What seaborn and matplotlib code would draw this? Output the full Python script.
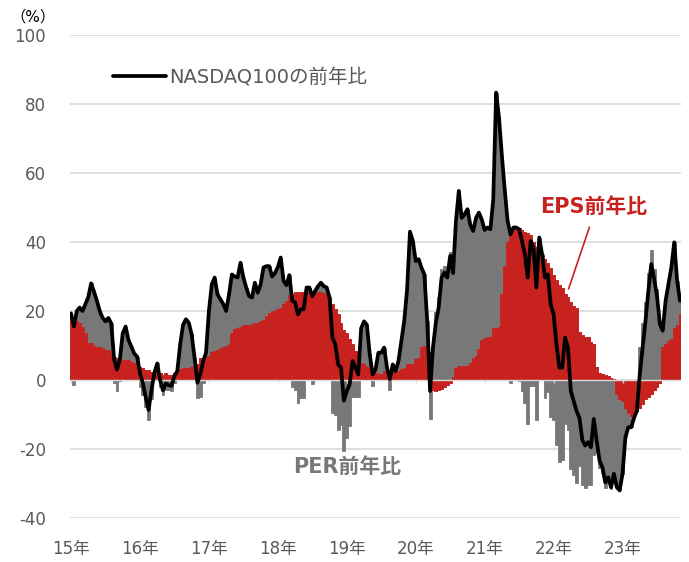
import numpy as np
import pandas as pd
import seaborn as sns
import matplotlib.pyplot as plt

# half-monthly readings, Jan 2015 -> Nov 2023 (YoY, %)
start_year = 2015
steps_per_year = 24

eps_yoy = [
    17.4, 17.0, 17.0, 16.4, 15.5, 13.5, 10.6, 10.6, 10.0, 9.7,
    9.7, 9.2, 8.7, 8.7, 7.7, 6.8, 6.3, 6.3, 5.8, 5.8,
    5.8, 5.3, 4.8, 4.3, 3.9, 3.4, 2.9, 2.9, 2.4, 1.9,
    1.9, 1.9, 1.4, 1.9, 1.4, 1.5, 2.0, 2.5, 3.2, 3.4,
    3.6, 3.6, 3.8, 4.0, 4.5, 6.5, 6.5, 6.8, 7.0, 8.2,
    8.4, 8.6, 9.4, 9.6, 10.0, 10.5, 13.5, 14.7, 15.0, 15.5,
    16.0, 16.0, 16.0, 16.2, 16.4, 16.5, 17.0, 17.5, 18.5, 19.5,
    20.0, 20.0, 20.5, 21.0, 22.0, 23.0, 24.5, 25.0, 25.5, 25.6,
    25.6, 25.6, 25.6, 25.6, 25.6, 25.6, 25.6, 25.5, 25.2, 25.0,
    24.0, 22.0, 20.5, 19.0, 16.5, 14.5, 13.5, 12.0, 10.3, 8.5,
    6.5, 5.0, 4.5, 4.0, 3.6, 3.2, 2.0, 1.6, 1.6, 2.5,
    3.6, 3.0, 2.6, 2.6, 2.6, 3.2, 3.6, 4.5, 4.5, 4.5,
    6.0, 6.5, 9.5, 9.9, 9.9, 8.0, -3.0, -3.2, -3.0, -2.5,
    -2.0, -1.5, -1.0, 1.0, 3.6, 4.0, 4.0, 4.0, 4.2, 5.0,
    6.5, 7.0, 9.0, 11.5, 12.3, 12.5, 12.5, 15.0, 15.2, 15.5,
    25.0, 33.0, 40.0, 43.0, 43.5, 44.0, 44.0, 43.5, 43.0, 42.5,
    42.0, 40.0, 38.5, 38.0, 36.0, 35.0, 34.0, 32.6, 30.5, 29.0,
    27.5, 26.8, 25.0, 24.0, 22.5, 21.5, 21.0, 14.0, 13.0, 12.4,
    12.4, 11.0, 10.4, 3.7, 2.0, 1.7, 1.5, 1.3, 0.5, 0.3,
    -4.0, -5.5, -6.0, -8.0, -9.5, -10.3, -10.0, -9.0, -8.0, -7.0,
    -5.5, -5.0, -4.0, -3.0, -2.0, -1.0, 9.5, 10.5, 11.4, 12.0,
    15.0, 16.0, 19.0,
]

ndx_yoy = [
    19.3, 15.5, 20.0, 21.0, 20.0, 22.0, 24.0, 28.0, 25.6, 23.0,
    20.0, 18.0, 17.0, 18.0, 16.4, 6.0, 3.0, 6.0, 13.5, 15.5,
    11.6, 9.7, 7.7, 6.8, 2.0, -1.0, -5.0, -8.7, -3.0, 2.0,
    4.8, 0.0, -3.0, -1.0, -1.5, -1.7, 1.2, 2.6, 10.3, 16.0,
    17.6, 16.6, 13.2, 6.5, -0.8, 1.6, 5.5, 7.9, 20.0, 27.7,
    29.7, 24.8, 23.4, 22.0, 20.0, 24.8, 30.6, 30.0, 29.7, 34.0,
    29.7, 26.8, 24.3, 23.9, 28.2, 25.3, 27.7, 32.6, 33.0, 33.0,
    30.0, 31.0, 32.7, 35.5, 28.7, 27.5, 30.4, 23.0, 22.5, 19.0,
    20.5, 20.5, 26.8, 26.8, 24.3, 25.8, 27.2, 28.2, 27.2, 26.8,
    23.9, 12.3, 10.3, 4.5, 3.6, -6.0, -3.2, -1.3, 5.5, 3.6,
    1.6, 15.0, 17.0, 16.0, 7.4, 1.6, 3.0, 7.9, 7.9, 9.4,
    3.6, 0.2, 4.5, 2.6, 5.5, 11.3, 17.1, 26.3, 43.0, 40.3,
    34.5, 35.0, 32.6, 30.6, 17.1, -3.2, 9.4, 16.6, 21.0, 29.7,
    31.1, 29.7, 36.0, 31.0, 46.0, 54.8, 47.0, 48.0, 49.5, 45.0,
    43.2, 47.0, 48.5, 46.5, 43.5, 44.2, 43.7, 52.4, 83.3, 76.0,
    65.0, 55.0, 46.0, 42.2, 44.2, 44.2, 43.7, 40.3, 36.4, 29.7,
    40.3, 38.4, 26.8, 41.3, 36.4, 29.7, 30.6, 21.9, 19.0, 10.3,
    3.6, 3.6, 12.3, 9.4, -3.2, -6.1, -9.0, -11.0, -17.4, -19.0,
    -18.0, -19.5, -11.3, -17.6, -23.4, -25.3, -29.7, -28.2, -31.1, -27.2,
    -31.1, -32.0, -27.2, -16.6, -13.7, -13.7, -11.0, -8.9, 1.7, 9.5,
    17.2, 25.9, 33.6, 29.3, 24.4, 16.2, 14.3, 23.0, 27.8, 32.7,
    39.9, 28.8, 23.0,
]

year_ticks = list(range(2015, 2024))
year_labels = [f"{y % 100}年" for y in year_ticks]

RED = '#c8221f'
GRAY = '#787878'
TXT = '#595959'
GRID = '#d9d9d9'

sns.set_style('white')
# DejaVu for the wide latin/digits, Noto CJK picks up the Japanese glyphs
plt.rcParams['font.family'] = ['DejaVu Sans', 'Noto Sans CJK JP']
plt.rcParams['axes.unicode_minus'] = False

df = pd.DataFrame({'eps': eps_yoy, 'ndx': ndx_yoy})
df['t'] = start_year + np.arange(len(df)) / steps_per_year
# PER contribution = index change minus EPS change
df['per'] = df['ndx'] - df['eps']
# Excel-style stacking: positives pile on positives, negatives on negatives
df['pos_top'] = df['eps'].clip(lower=0) + df['per'].clip(lower=0)
df['neg_bot'] = df['eps'].clip(upper=0) + df['per'].clip(upper=0)

fig = plt.figure(figsize=(6.89, 5.62), dpi=100)
ax = fig.add_axes([0.101, 0.0783, 0.888, 0.8594])

bar_kw = dict(native_scale=True, width=1.0, saturation=1, errorbar=None,
              linewidth=0.6, ax=ax)
sns.barplot(data=df, x='t', y='pos_top', color=GRAY, edgecolor=GRAY, **bar_kw)
sns.barplot(data=df, x='t', y='neg_bot', color=GRAY, edgecolor=GRAY, **bar_kw)
sns.barplot(data=df, x='t', y='eps', color=RED, edgecolor=RED, **bar_kw)

ax.axhline(0, color=GRID, lw=1.0, zorder=2)
ax.vlines(year_ticks, -0.9, 0, color=GRID, lw=1.0, zorder=2)

sns.lineplot(data=df, x='t', y='ndx', color='black', lw=2.7, ax=ax,
             zorder=3, label='NASDAQ100の前年比')

ax.set_xlim(df['t'].iloc[0] - 0.5 / steps_per_year,
            df['t'].iloc[-1] + 0.5 / steps_per_year)
ax.set_ylim(-40, 100)
ax.set_yticks(range(-40, 101, 20))
ax.yaxis.grid(True, color=GRID, lw=1.2)
ax.set_axisbelow(True)
ax.set_xticks(year_ticks)
ax.set_xticklabels(year_labels)
ax.tick_params(axis='x', length=0, pad=16, labelsize=12, labelcolor=TXT)
ax.tick_params(axis='y', length=0, pad=17, labelsize=12, labelcolor=TXT)
ax.set_xlabel('')
ax.set_ylabel('')
for s in ax.spines.values():
    s.set_visible(False)

ax.legend(loc='center left', bbox_to_anchor=(0.071, 0.913), frameon=False,
          fontsize=14, handlelength=2.7, handletextpad=0.2,
          borderpad=0, borderaxespad=0, labelcolor=TXT)

fig.text(0.048, 0.970, '（%）', ha='center', va='center', fontsize=11, color='black')

ax.plot([2022.52, 2022.217], [44.3, 26.4], color=RED, lw=1.2, zorder=4)
ax.text(2022.58, 50.1, 'EPS前年比', ha='center', va='center', fontsize=15,
        fontweight='bold', color=RED)
ax.text(2019.0, -25.2, 'PER前年比', ha='center', va='center', fontsize=15,
        fontweight='bold', color=GRAY)

fig.savefig('out.png', dpi=100)
